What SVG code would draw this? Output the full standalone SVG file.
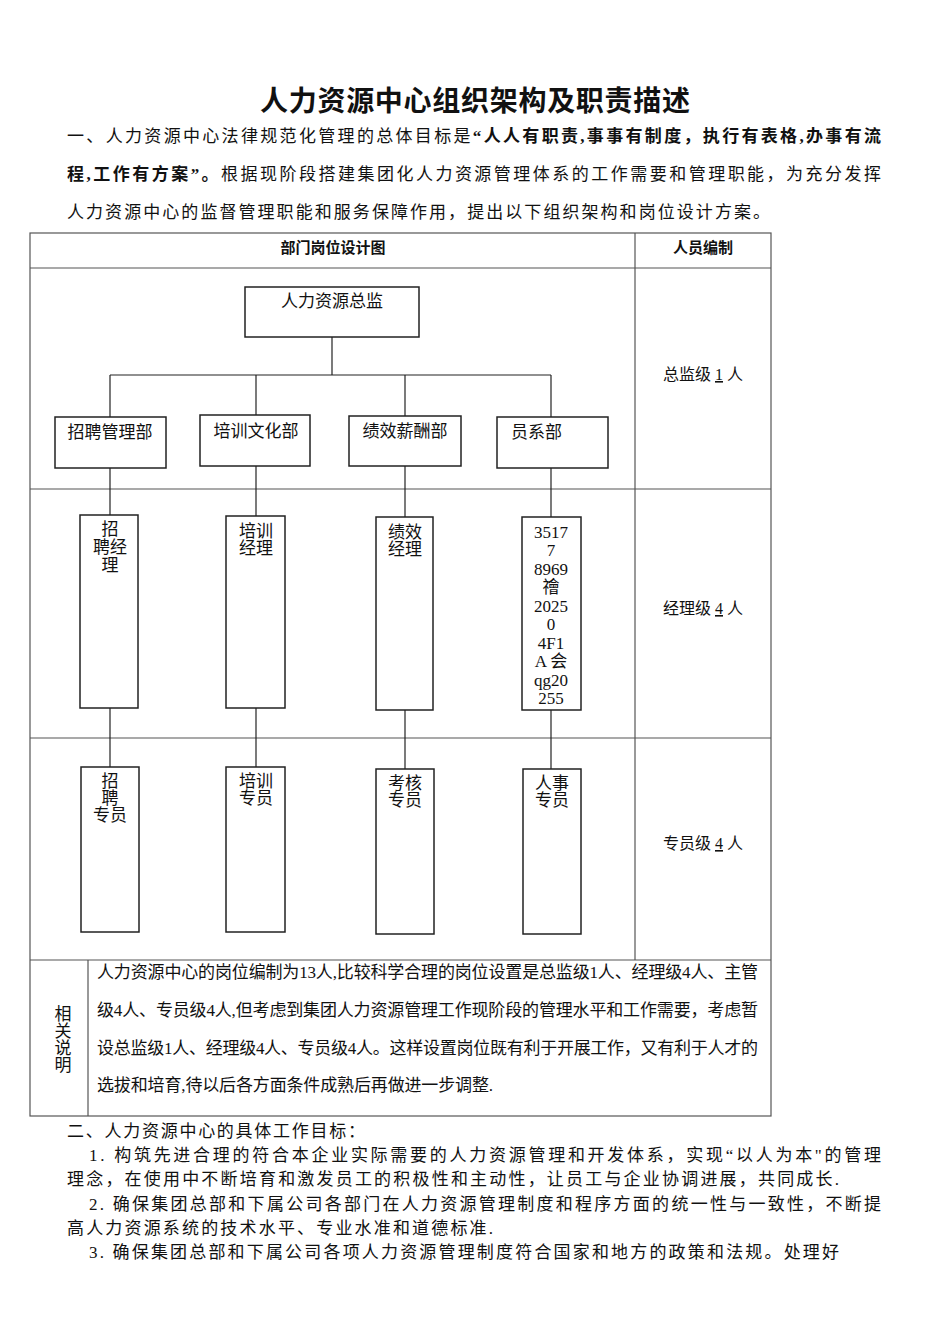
<svg xmlns="http://www.w3.org/2000/svg" width="950" height="1344" viewBox="0 0 950 1344">
<style>
text{font-family:"Liberation Serif","Noto Sans CJK SC",serif;font-size:17px;fill:#111}
.b{font-weight:bold}
.t{font-family:"Liberation Sans","Noto Sans CJK SC",sans-serif;font-weight:bold;font-size:28px}
.h{font-family:"Liberation Sans","Noto Sans CJK SC",sans-serif;font-weight:bold;font-size:15px}
.s{font-size:16px}
.box{fill:#fff;stroke:#222;stroke-width:1.5}
.ln{stroke:#222;stroke-width:1.2;fill:none}
.tb{stroke:#555;stroke-width:1.2;fill:none}
</style>
<rect width="950" height="1344" fill="#fff"/>
<text class="t" x="475" y="111" text-anchor="middle" textLength="430">人力资源中心组织架构及职责描述</text>
<text x="67" y="142" textLength="814">一、人力资源中心法律规范化管理的总体目标是<tspan class="b">“人人有职责,事事有制度，执行有表格,办事有流</tspan></text>
<text x="67" y="180" textLength="814"><tspan class="b">程,工作有方案”。</tspan>根据现阶段搭建集团化人力资源管理体系的工作需要和管理职能，为充分发挥</text>
<text x="67" y="218" textLength="703">人力资源中心的监督管理职能和服务保障作用，提出以下组织架构和岗位设计方案。</text>
<g id="table" class="tb">
<rect x="30" y="233" width="741" height="883"/>
<line x1="635" y1="233" x2="635" y2="960"/>
<line x1="30" y1="268" x2="771" y2="268"/>
<line x1="30" y1="489" x2="771" y2="489"/>
<line x1="30" y1="738" x2="771" y2="738"/>
<line x1="30" y1="960" x2="771" y2="960"/>
<line x1="88" y1="960" x2="88" y2="1116"/>
</g>
<text class="h" x="333" y="253" text-anchor="middle">部门岗位设计图</text>
<text class="h" x="703" y="253" text-anchor="middle">人员编制</text>
<text class="s" x="703" y="380" text-anchor="middle">总监级 <tspan text-decoration="underline">1</tspan> 人</text>
<text class="s" x="703" y="614" text-anchor="middle">经理级 <tspan text-decoration="underline">4</tspan> 人</text>
<text class="s" x="703" y="849" text-anchor="middle">专员级 <tspan text-decoration="underline">4</tspan> 人</text>
<g id="connectors" class="ln">
<line x1="332" y1="337" x2="332" y2="375"/>
<line x1="110" y1="375" x2="551" y2="375"/>
<line x1="110" y1="375" x2="110" y2="767"/>
<line x1="256" y1="375" x2="256" y2="767"/>
<line x1="405" y1="375" x2="405" y2="769"/>
<line x1="551" y1="375" x2="551" y2="769"/>
</g>
<g class="s">
<g id="n0"><rect class="box" x="245" y="287" width="174" height="50"/><text x="332" y="307" text-anchor="middle">人力资源总监</text></g>
<g id="d1"><rect class="box" x="55" y="417" width="111" height="51"/><text x="110" y="438" text-anchor="middle">招聘管理部</text></g>
<g id="d2"><rect class="box" x="200" y="415" width="110" height="51"/><text x="256" y="437" text-anchor="middle">培训文化部</text></g>
<g id="d3"><rect class="box" x="349" y="416" width="112" height="50"/><text x="405" y="437" text-anchor="middle">绩效薪酬部</text></g>
<g id="d4"><rect class="box" x="497" y="417" width="111" height="51"/><text x="511" y="438">员系部</text></g>
<g id="m1"><rect class="box" x="80" y="515" width="58" height="193"/><text x="110" y="535" text-anchor="middle">招</text><text x="110" y="553" text-anchor="middle">聘经</text><text x="110" y="571" text-anchor="middle">理</text></g>
<g id="m2"><rect class="box" x="226" y="516" width="59" height="192"/><text x="256" y="537" text-anchor="middle">培训</text><text x="256" y="554" text-anchor="middle">经理</text></g>
<g id="m3"><rect class="box" x="376" y="517" width="57" height="193"/><text x="405" y="538" text-anchor="middle">绩效</text><text x="405" y="555" text-anchor="middle">经理</text></g>
<g id="m4"><rect class="box" x="522" y="517" width="59" height="193"/>
<text x="551" y="538" text-anchor="middle">3517</text><text x="551" y="556" text-anchor="middle">7</text><text x="551" y="575" text-anchor="middle">8969</text><text x="551" y="593" text-anchor="middle">禬</text><text x="551" y="612" text-anchor="middle">2025</text><text x="551" y="630" text-anchor="middle">0</text><text x="551" y="649" text-anchor="middle">4F1</text><text x="551" y="667" text-anchor="middle">A 会</text><text x="551" y="686" text-anchor="middle">qg20</text><text x="551" y="704" text-anchor="middle">255</text></g>
<g id="s1"><rect class="box" x="81" y="767" width="58" height="165"/><text x="110" y="787" text-anchor="middle">招</text><text x="110" y="804" text-anchor="middle">聘</text><text x="110" y="821" text-anchor="middle">专员</text></g>
<g id="s2"><rect class="box" x="226" y="767" width="59" height="165"/><text x="256" y="787" text-anchor="middle">培训</text><text x="256" y="804" text-anchor="middle">专员</text></g>
<g id="s3"><rect class="box" x="376" y="769" width="58" height="165"/><text x="405" y="789" text-anchor="middle">考核</text><text x="405" y="806" text-anchor="middle">专员</text></g>
<g id="s4"><rect class="box" x="523" y="769" width="58" height="165"/><text x="552" y="789" text-anchor="middle">人事</text><text x="552" y="806" text-anchor="middle">专员</text></g>
<text x="63" y="1020" text-anchor="middle">相</text><text x="63" y="1037" text-anchor="middle">关</text><text x="63" y="1054" text-anchor="middle">说</text><text x="63" y="1071" text-anchor="middle">明</text>
<text x="97" y="978" textLength="661">人力资源中心的岗位编制为13人,比较科学合理的岗位设置是总监级1人、经理级4人、主管</text>
<text x="97" y="1016" textLength="661">级4人、专员级4人,但考虑到集团人力资源管理工作现阶段的管理水平和工作需要，考虑暂</text>
<text x="97" y="1054" textLength="661">设总监级1人、经理级4人、专员级4人。这样设置岗位既有利于开展工作，又有利于人才的</text>
<text x="97" y="1091" textLength="396">选拔和培育,待以后各方面条件成熟后再做进一步调整.</text>
</g>
<text x="67" y="1137" textLength="298">二、人力资源中心的具体工作目标：</text>
<text x="89" y="1161" textLength="792">1. 构筑先进合理的符合本企业实际需要的人力资源管理和开发体系，实现“以人为本"的管理</text>
<text x="67" y="1185" textLength="772">理念，在使用中不断培育和激发员工的积极性和主动性，让员工与企业协调进展，共同成长.</text>
<text x="89" y="1210" textLength="792">2. 确保集团总部和下属公司各部门在人力资源管理制度和程序方面的统一性与一致性，不断提</text>
<text x="67" y="1234" textLength="426">高人力资源系统的技术水平、专业水准和道德标准.</text>
<text x="89" y="1258" textLength="750">3. 确保集团总部和下属公司各项人力资源管理制度符合国家和地方的政策和法规。处理好</text>
</svg>
